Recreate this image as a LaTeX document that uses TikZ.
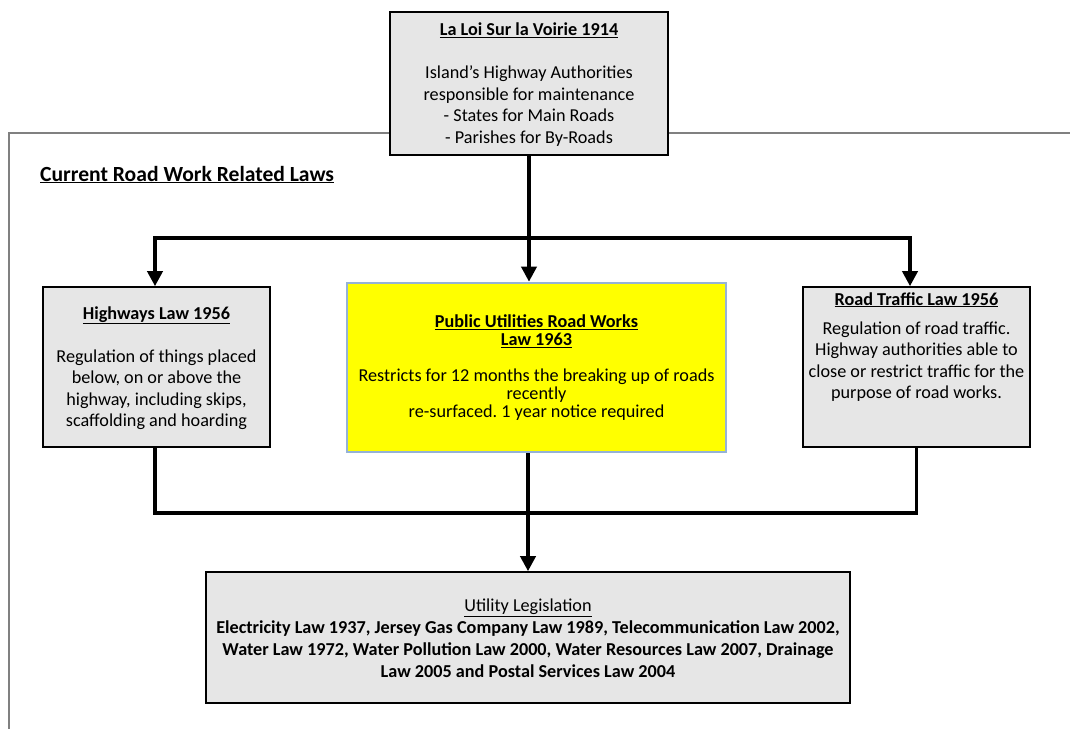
\documentclass[tikz,border=0pt]{standalone}
\usepackage{fontspec}
\setmainfont{Carlito}
\frenchspacing
\usetikzlibrary{arrows.meta,calc}
\definecolor{boxgray}{HTML}{E6E6E6}
\definecolor{pubfill}{HTML}{FFFF00}
\definecolor{pubedge}{HTML}{95B3D7}
\definecolor{framegray}{HTML}{808080}
\begin{document}
\begin{tikzpicture}[x=1pt,y=-1pt,
  lawbox/.style={draw=black, line width=1.6pt, fill=boxgray, inner sep=0pt},
  txt/.style={align=center, font=\fontsize{18.2}{21.5}\selectfont, inner sep=0pt},
  conn/.style={line width=3.6pt},
  arr/.style={line width=3.6pt, -{Triangle[width=15pt,length=15pt]}}]
\useasboundingbox (0,0) rectangle (1070,729);
% outer frame
\draw[framegray, line width=1.2pt] (1070,133) -- (9,133) -- (9,729);
\node[anchor=base west, inner sep=0pt, font=\fontsize{21.6}{24}\selectfont\bfseries] (cur) at (40,181) {\underline{Current Road Work Related Laws}};
% boxes
\node[lawbox, minimum width=278pt, minimum height=143pt] (top) at (529,83.5) {};
\node[txt] (toptxt) at ($(top.center)+(0,1)$) {\underline{\textbf{La Loi Sur la Voirie 1914}}\\[21.5pt]
Island’s Highway Authorities\\responsible for maintenance\\- States for Main Roads\\- Parishes for By-Roads};
\node[lawbox, minimum width=227pt, minimum height=160pt] (hw) at (156.5,367) {};
\node[txt] (hwtxt) at ($(hw.center)+(0,1)$) {\underline{\textbf{Highways Law 1956}}\\[21.5pt]
Regulation of things placed\\below, on or above the\\highway, including skips,\\scaffolding and hoarding};
\node[draw=pubedge, line width=2.6pt, fill=pubfill, minimum width=379pt, minimum height=169pt, inner sep=0pt] (pu) at (536.5,367.5) {};
\node[txt, font=\fontsize{18.2}{18}\selectfont] (putxt) at ($(pu.center)+(0,0)$) {\underline{\textbf{Public Utilities Road Works}}\\\underline{\textbf{Law 1963}}\\[18pt]
Restricts for 12 months the breaking up of roads\\recently\\re-surfaced. 1 year notice required};
\node[lawbox, minimum width=227pt, minimum height=160pt] (rt) at (916.5,367) {};
\node[txt, anchor=north] (rttxt) at (916.5,292) {\underline{\textbf{Road Traffic Law 1956}}\\[7.5pt]
Regulation of road traffic.\\Highway authorities able to\\close or restrict traffic for the\\purpose of road works.};
\node[lawbox, minimum width=644pt, minimum height=131pt] (ut) at (528,637.5) {};
\node[txt, font=\fontsize{18.2}{22}\selectfont] (uttxt) at ($(ut.center)+(0,1)$) {\underline{Utility Legislation}\\
\textbf{Electricity Law 1937, Jersey Gas Company Law 1989, Telecommunication Law 2002,}\\
\textbf{Water Law 1972, Water Pollution Law 2000, Water Resources Law 2007, Drainage}\\
\textbf{Law 2005 and Postal Services Law 2004}};
% connectors
\coordinate (bar) at (529,238);
\coordinate (jn) at (529,513);
\draw[conn] (top.south) -- (bar);
\draw[arr] (bar) -| ($(hw.north)+(-1.5,0)$);
\draw[arr] (bar) -| ($(rt.north)+(-6.5,0)$);
\draw[arr] (top.south) -- (top.south |- pu.north);
\draw[conn] ($(hw.south)+(-1.5,0)$) |- (jn) -| (rt.south);
\draw[arr] (pu.south -| ut.north) -- (ut.north);
\end{tikzpicture}
\end{document}
